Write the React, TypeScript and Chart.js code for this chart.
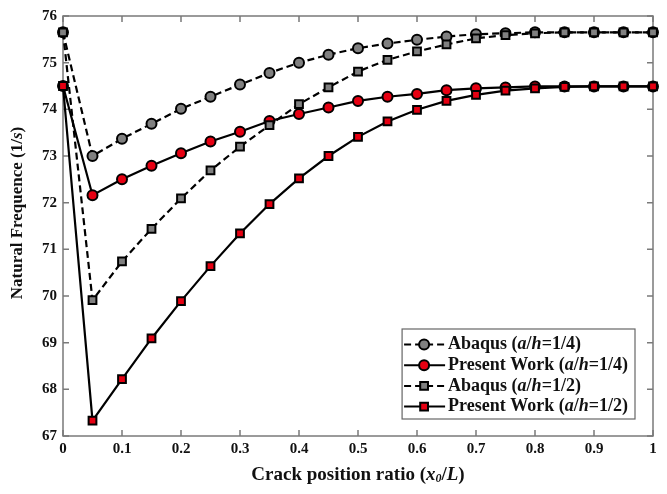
import React, { useEffect, useRef } from 'react';
import { Chart, registerables } from 'chart.js';

Chart.register(...registerables);

const xValues = [0, 0.05, 0.1, 0.15, 0.2, 0.25, 0.3, 0.35, 0.4, 0.45, 0.5, 0.55, 0.6, 0.65, 0.7, 0.75, 0.8, 0.85, 0.9, 0.95, 1];
const abaqusQuarter = [75.65, 73.0, 73.37, 73.69, 74.01, 74.27, 74.53, 74.78, 75.0, 75.17, 75.31, 75.41, 75.49, 75.56, 75.61, 75.63, 75.65, 75.65, 75.65, 75.65, 75.65];
const presentQuarter = [74.5, 72.16, 72.5, 72.79, 73.06, 73.31, 73.52, 73.75, 73.9, 74.04, 74.18, 74.27, 74.33, 74.41, 74.45, 74.47, 74.49, 74.49, 74.49, 74.49, 74.49];
const abaqusHalf = [75.65, 69.91, 70.74, 71.44, 72.09, 72.69, 73.2, 73.66, 74.11, 74.47, 74.81, 75.06, 75.24, 75.39, 75.52, 75.59, 75.63, 75.65, 75.65, 75.65, 75.65];
const presentHalf = [74.5, 67.33, 68.22, 69.09, 69.89, 70.64, 71.34, 71.97, 72.52, 73.0, 73.41, 73.74, 73.99, 74.18, 74.31, 74.4, 74.45, 74.48, 74.49, 74.49, 74.49];

const seriesLabels = ['Abaqus (a/h=1/4)', 'Present Work (a/h=1/4)', 'Abaqus (a/h=1/2)', 'Present Work (a/h=1/2)'];
const xTickLabels = ['0', '0.1', '0.2', '0.3', '0.4', '0.5', '0.6', '0.7', '0.8', '0.9', '1'];
const yTickLabels = ['67', '68', '69', '70', '71', '72', '73', '74', '75', '76'];
const xTitle = 'Crack position ratio (x0/L)';
const yTitle = 'Natural Frequence (1/s)';

const FONT = "'Liberation Serif', 'Times New Roman', serif";
const GRAY = '#808080';
const RED = '#e60012';
const AXIS = '#7a7a7a';

type Seg = { t: string; kind: 'n' | 'i' | 's' };

function toSegments(text: string): Seg[] {
  const out: Seg[] = [];
  let inParen = false;
  for (let i = 0; i < text.length; i++) {
    const c = text[i];
    if (c === '(') inParen = true;
    let kind: 'n' | 'i' | 's' = 'n';
    if (inParen && /[a-zA-Z]/.test(c)) kind = 'i';
    else if (inParen && /[0-9]/.test(c) && i > 0 && /[a-zA-Z]/.test(text[i - 1])) kind = 's';
    if (c === ')') inParen = false;
    const last = out[out.length - 1];
    if (last && last.kind === kind) last.t += c;
    else out.push({ t: c, kind });
  }
  return out;
}

function segFont(kind: string, size: number) {
  if (kind === 'i') return `italic bold ${size}px ${FONT}`;
  if (kind === 's') return `italic bold ${Math.round(size * 0.65)}px ${FONT}`;
  return `bold ${size}px ${FONT}`;
}

function measureRich(ctx: CanvasRenderingContext2D, text: string, size: number) {
  let w = 0;
  for (const s of toSegments(text)) {
    ctx.font = segFont(s.kind, size);
    w += ctx.measureText(s.t).width;
  }
  return w;
}

function drawRich(ctx: CanvasRenderingContext2D, text: string, x: number, y: number, size: number, align: 'left' | 'center') {
  const w = measureRich(ctx, text, size);
  let cx = align === 'center' ? x - w / 2 : x;
  ctx.textAlign = 'left';
  ctx.textBaseline = 'middle';
  for (const s of toSegments(text)) {
    ctx.font = segFont(s.kind, size);
    const dy = s.kind === 's' ? size * 0.22 : 0;
    ctx.fillText(s.t, cx, y + dy);
    cx += ctx.measureText(s.t).width;
  }
}

function drawMarker(ctx: CanvasRenderingContext2D, style: string, x: number, y: number, r: number, fill: string) {
  ctx.beginPath();
  if (style === 'circle') {
    ctx.arc(x, y, r, 0, Math.PI * 2);
  } else {
    const s = Math.SQRT1_2 * r;
    ctx.rect(x - s, y - s, 2 * s, 2 * s);
  }
  ctx.fillStyle = fill;
  ctx.fill();
  ctx.lineWidth = 2;
  ctx.strokeStyle = '#000';
  ctx.setLineDash([]);
  ctx.stroke();
}

const framePlugin = {
  id: 'frameTicks',
  beforeDatasetsDraw(chart: any) {
    const { ctx, chartArea: a, scales } = chart;
    ctx.save();
    ctx.strokeStyle = AXIS;
    ctx.lineWidth = 1.5;
    ctx.strokeRect(a.left, a.top, a.right - a.left, a.bottom - a.top);
    ctx.beginPath();
    const L = 6;
    scales.x.ticks.forEach((t: any) => {
      const px = scales.x.getPixelForValue(t.value);
      ctx.moveTo(px, a.bottom);
      ctx.lineTo(px, a.bottom - L);
      ctx.moveTo(px, a.top);
      ctx.lineTo(px, a.top + L);
    });
    scales.y.ticks.forEach((t: any) => {
      const py = scales.y.getPixelForValue(t.value);
      ctx.moveTo(a.left, py);
      ctx.lineTo(a.left + L, py);
      ctx.moveTo(a.right, py);
      ctx.lineTo(a.right - L, py);
    });
    ctx.stroke();
    ctx.restore();
  },
  afterDraw(chart: any) {
    const { ctx, chartArea: a } = chart;
    ctx.save();
    ctx.fillStyle = '#111';
    // axis titles
    drawRich(ctx, xTitle, (a.left + a.right) / 2, a.bottom + 39, 19, 'center');
    ctx.save();
    ctx.translate(18, (a.top + a.bottom) / 2 - 13);
    ctx.rotate(-Math.PI / 2);
    drawRich(ctx, yTitle, 0, 0, 17, 'center');
    ctx.restore();

    // legend
    const size = 18;
    const datasets = chart.data.datasets;
    let maxW = 0;
    datasets.forEach((d: any) => {
      maxW = Math.max(maxW, measureRich(ctx, d.label, size));
    });
    const rowH = 20.7;
    const boxW = 46 + maxW + 7;
    const boxH = 90;
    const right = a.right - 18;
    const bottom = a.bottom - 17;
    const left = right - boxW;
    const top = bottom - boxH;
    ctx.fillStyle = '#fff';
    ctx.fillRect(left, top, boxW, boxH);
    ctx.strokeStyle = '#666';
    ctx.lineWidth = 1.2;
    ctx.strokeRect(left, top, boxW, boxH);
    datasets.forEach((d: any, i: number) => {
      const y = top + 15.5 + i * rowH;
      ctx.beginPath();
      ctx.setLineDash(d.borderDash || []);
      ctx.strokeStyle = '#000';
      ctx.lineWidth = 2;
      ctx.moveTo(left + 2, y);
      ctx.lineTo(left + 43, y);
      ctx.stroke();
      drawMarker(ctx, d.pointStyle, left + 22, y, d.pointRadius, d.pointBackgroundColor);
      ctx.fillStyle = '#111';
      drawRich(ctx, d.label, left + 46, y, size, 'left');
    });
    ctx.restore();
  },
};

export default function App() {
  const ref = useRef<HTMLCanvasElement | null>(null);
  useEffect(() => {
    if (!ref.current) return;
    const mk = (vals: number[]) => vals.map((v, i) => ({ x: xValues[i], y: v }));
    const common = {
      borderColor: '#000',
      borderWidth: 2.2,
      pointBorderWidth: 2,
      pointBorderColor: '#000',
      clip: false,
    };
    const chart = new Chart(ref.current, {
      type: 'line',
      data: {
        datasets: [
          { ...common, label: seriesLabels[0], data: mk(abaqusQuarter), borderDash: [7, 4], pointStyle: 'circle', pointRadius: 5, pointBackgroundColor: GRAY, order: 3 },
          { ...common, label: seriesLabels[1], data: mk(presentQuarter), pointStyle: 'circle', pointRadius: 5, pointBackgroundColor: RED, order: 2 },
          { ...common, label: seriesLabels[2], data: mk(abaqusHalf), borderDash: [7, 4], pointStyle: 'rect', pointRadius: 5.5, pointBackgroundColor: GRAY, order: 1 },
          { ...common, label: seriesLabels[3], data: mk(presentHalf), pointStyle: 'rect', pointRadius: 5.5, pointBackgroundColor: RED, order: 0 },
        ] as any,
      },
      options: {
        animation: false,
        responsive: false,
        layout: { padding: { left: 8, right: 14, top: 16, bottom: 0 } },
        plugins: { legend: { display: false }, tooltip: { enabled: false }, title: { display: false } },
        scales: {
          x: {
            type: 'linear',
            min: 0,
            max: 1,
            grid: { display: false, drawTicks: false },
            border: { display: false },
            ticks: {
              stepSize: 0.1,
              padding: 4,
              color: '#111',
              font: { family: FONT, size: 15, weight: 'bold' },
              maxRotation: 0,
              autoSkip: false,
              callback: (v: any) => xTickLabels[Math.round(Number(v) * 10)] ?? '',
            },
            afterFit: (s: any) => {
              s.height = 58;
            },
          },
          y: {
            type: 'linear',
            min: 67,
            max: 76,
            grid: { display: false, drawTicks: false },
            border: { display: false },
            ticks: {
              stepSize: 1,
              padding: 6,
              color: '#111',
              font: { family: FONT, size: 15, weight: 'bold' },
              callback: (v: any) => yTickLabels[Math.round(Number(v)) - 67] ?? '',
            },
            afterFit: (s: any) => {
              s.width = 55;
            },
          },
        },
      } as any,
      plugins: [framePlugin],
    });
    return () => chart.destroy();
  }, []);
  return (
    <div style={{ position: 'fixed', left: 0, top: 0, width: 667, height: 494, background: '#fff' }}>
      <canvas ref={ref} width={667} height={494} />
    </div>
  );
}
